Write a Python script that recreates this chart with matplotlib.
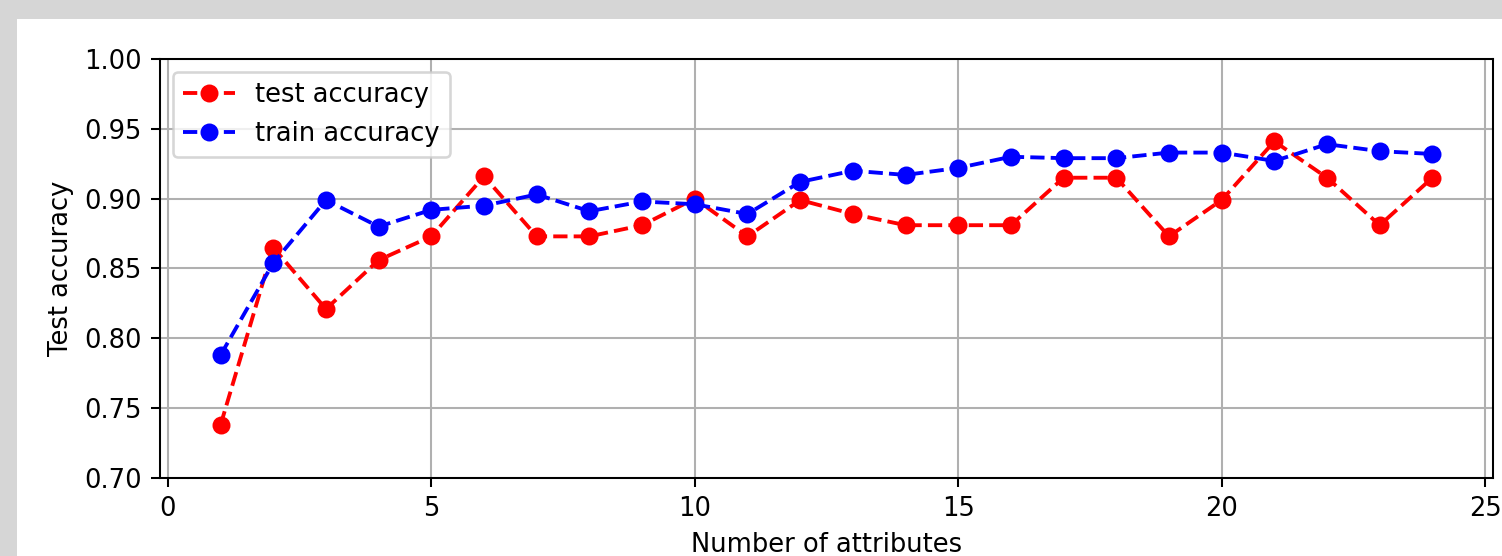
import numpy as np
import matplotlib.pyplot as plt
from matplotlib.patches import Rectangle

n_attributes = list(range(1, 25))
test_acc = [0.738, 0.865, 0.821, 0.856, 0.873, 0.916, 0.873, 0.873, 0.881, 0.900,
            0.873, 0.899, 0.889, 0.881, 0.881, 0.881, 0.915, 0.915, 0.873, 0.899,
            0.941, 0.915, 0.881, 0.915]
train_acc = [0.788, 0.854, 0.899, 0.880, 0.892, 0.895, 0.903, 0.891, 0.898, 0.896,
             0.889, 0.912, 0.920, 0.917, 0.922, 0.930, 0.929, 0.929, 0.933, 0.933,
             0.927, 0.939, 0.934, 0.932]

DPI = 185
W, H = 1502, 556

fig = plt.figure(figsize=(W / DPI, H / DPI), dpi=DPI, facecolor='#d6d6d6')
# white canvas area of the figure
fig.patches.append(Rectangle((17 / W, 0), 1, (H - 19) / H, transform=fig.transFigure,
                             facecolor='white', edgecolor='none', zorder=-1))

ax = fig.add_axes([160 / W, (H - 478) / H, 1333 / W, 419 / H])
ax.plot(n_attributes, test_acc, 'r--o', label='test accuracy')
ax.plot(n_attributes, train_acc, 'b--o', label='train accuracy')
ax.set_ylim(0.70, 1.00)
ax.set_xlabel('Number of attributes')
ax.set_ylabel('Test accuracy')
ax.grid(True)
ax.legend(loc='upper left')

fig.savefig('out.png', dpi=DPI, facecolor=fig.get_facecolor())
